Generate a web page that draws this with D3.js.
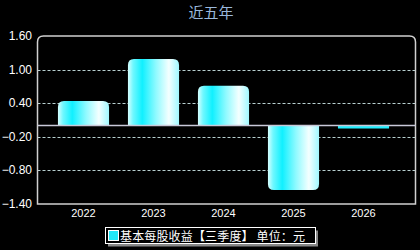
<!DOCTYPE html>
<html>
<head>
<meta charset="utf-8">
<script src="https://cdn.jsdelivr.net/npm/d3@7"></script>
<style>
  html, body { margin: 0; padding: 0; background: #000; }
  svg { display: block; }
</style>
</head>
<body>
<div id="chart"></div>
<script>
// data
const years = ["2022", "2023", "2024", "2025", "2026"];
const eps = [0.44, 1.19, 0.71, -1.15, -0.05];
const yTicks = [1.60, 1.00, 0.40, -0.20, -0.80, -1.40];
const title = "近五年";
const legendLabel = "基本每股收益【三季度】 单位：元";

const W = 420, H = 250;
const plot = { left: 37.5, right: 415.5, top: 36, bottom: 204 };

const svg = d3.select("#chart").append("svg")
  .attr("width", W).attr("height", H)
  .style("font-family", "Arial, 'Liberation Sans', sans-serif");

svg.append("rect").attr("width", W).attr("height", H).attr("fill", "#000");

const defs = svg.append("defs");
const grad = defs.append("linearGradient").attr("id", "barGrad")
  .attr("x1", "0%").attr("x2", "100%").attr("y1", "0%").attr("y2", "0%");
[[0, "#d8ffff"], [0.1, "#70f8ff"], [0.28, "#10f0ff"], [0.55, "#90faff"], [0.8, "#f4ffff"], [1, "#a0f8ff"]]
  .forEach(([o, c]) => grad.append("stop").attr("offset", o).attr("stop-color", c));

const y = d3.scaleLinear().domain([-1.4, 1.6]).range([plot.bottom, plot.top]);
const x = d3.scaleBand().domain(years).range([48.5, 398.5]).paddingInner(0.27).paddingOuter(0.135);

// title
svg.append("text")
  .attr("x", 211).attr("y", 18)
  .attr("text-anchor", "middle")
  .attr("fill", "#9ab8dc")
  .style("font-family", "'Noto Sans CJK SC', sans-serif")
  .style("font-size", "15px")
  .text(title);

// grid lines (dashed)
svg.append("g").selectAll("line")
  .data(yTicks.filter(t => t < 1.6 && t > -1.4))
  .enter().append("line")
  .attr("x1", plot.left).attr("x2", plot.right)
  .attr("y1", d => Math.round(y(d)) + 0.5).attr("y2", d => Math.round(y(d)) + 0.5)
  .attr("stroke", "#b8d0d0")
  .attr("stroke-dasharray", "3,2");

// frame with rounded top corners
const r = 6;
svg.append("path")
  .attr("d", `M${plot.left},${plot.bottom} L${plot.left},${plot.top + r} Q${plot.left},${plot.top} ${plot.left + r},${plot.top}
    L${plot.right - r},${plot.top} Q${plot.right},${plot.top} ${plot.right},${plot.top + r} L${plot.right},${plot.bottom} Z`)
  .attr("fill", "none")
  .attr("stroke", "#d0d0d0")
  .attr("stroke-width", 1.5);

// bars
function barPath(d, i) {
  const x0 = x(years[i]), w = x.bandwidth();
  const y0 = y(0), y1 = y(d);
  const h = Math.abs(y1 - y0);
  const rr = Math.min(6, h);
  if (d >= 0) {
    return `M${x0},${y0} L${x0},${y1 + rr} Q${x0},${y1} ${x0 + rr},${y1} L${x0 + w - rr},${y1} Q${x0 + w},${y1} ${x0 + w},${y1 + rr} L${x0 + w},${y0} Z`;
  }
  if (h < 6) return `M${x0},${y0} L${x0 + w},${y0} L${x0 + w},${y1} L${x0},${y1} Z`;
  return `M${x0},${y0} L${x0},${y1 - rr} Q${x0},${y1} ${x0 + rr},${y1} L${x0 + w - rr},${y1} Q${x0 + w},${y1} ${x0 + w},${y1 - rr} L${x0 + w},${y0} Z`;
}
svg.append("g").selectAll("path")
  .data(eps)
  .enter().append("path")
  .attr("d", (d, i) => barPath(d, i))
  .attr("fill", (d, i) => Math.abs(d) < 0.1 ? "#20eeff" : "url(#barGrad)");

// zero line
svg.append("line")
  .attr("x1", plot.left).attr("x2", plot.right)
  .attr("y1", y(0)).attr("y2", y(0))
  .attr("stroke", "#c8c8d8").attr("stroke-width", 1.5);

// y axis labels
svg.append("g").selectAll("text")
  .data(yTicks)
  .enter().append("text")
  .attr("x", 32).attr("y", d => y(d) + 4)
  .attr("text-anchor", "end")
  .attr("fill", "#fff")
  .style("font-size", "12px")
  .text(d => d3.format(".2f")(d));

// x axis labels
svg.append("g").selectAll("text")
  .data(years)
  .enter().append("text")
  .attr("x", d => x(d) + x.bandwidth() / 2)
  .attr("y", 217)
  .attr("text-anchor", "middle")
  .attr("fill", "#fff")
  .style("font-size", "11px")
  .text(d => d);

// legend
const lg = svg.append("g");
lg.append("rect").attr("x", 108).attr("y", 230.5).attr("width", 210).attr("height", 16).attr("fill", "#888");
lg.append("rect").attr("x", 105.5).attr("y", 227.5).attr("width", 210).attr("height", 16)
  .attr("fill", "#000").attr("stroke", "#fff").attr("stroke-width", 1);
lg.append("rect").attr("x", 108.5).attr("y", 230.5).attr("width", 10).attr("height", 10)
  .attr("fill", "#20e8f8").attr("stroke", "#fff").attr("stroke-width", 1);
lg.append("text")
  .attr("x", 120).attr("y", 240.5)
  .attr("fill", "#fff")
  .style("font-family", "'Noto Sans CJK SC', sans-serif")
  .style("font-size", "12px")
  .attr("textLength", 185)
  .attr("lengthAdjust", "spacing")
  .text(legendLabel);
</script>
</body>
</html>
